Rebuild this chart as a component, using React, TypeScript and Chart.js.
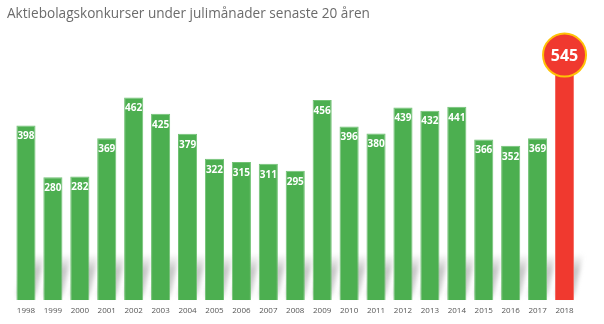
import React, { useEffect, useRef } from "react";
import { Chart, registerables } from "chart.js";

Chart.register(...registerables);

const TITLE = "Aktiebolagskonkurser under julimånader senaste 20 åren";
const YEARS = ["1998","1999","2000","2001","2002","2003","2004","2005","2006","2007","2008","2009","2010","2011","2012","2013","2014","2015","2016","2017","2018"];
const VALUES = [398,280,282,369,462,425,379,322,315,311,295,456,396,380,439,432,441,366,352,369,545];
const GREEN = "#4caf50";
const RED = "#f0392f";
const AMBER = "#ffc107";

const titlePlugin = {
  id: "customTitle",
  afterDraw(chart: any) {
    const ctx = chart.ctx;
    ctx.save();
    ctx.font = '13.6px "Open Sans"';
    ctx.fillStyle = "#6b6b6b";
    ctx.textBaseline = "middle";
    ctx.textAlign = "left";
    ctx.fillText(TITLE, 7, 14);
    ctx.restore();
  },
};

const shadowPlugin = {
  id: "barShadow",
  beforeDatasetsDraw(chart: any) {
    const ctx = chart.ctx;
    const meta = chart.getDatasetMeta(0);
    ctx.save();
    ctx.filter = "blur(2px)";
    meta.data.forEach((bar: any) => {
      const w = bar.width;
      const l = bar.x - w / 2;
      const r = bar.x + w / 2;
      const b = bar.base;
      const topY = b - 46;
      const dx = 9;
      const g = ctx.createLinearGradient(0, topY, 0, b);
      g.addColorStop(0, "rgba(160,160,160,0)");
      g.addColorStop(0.35, "rgba(160,160,160,0.6)");
      g.addColorStop(0.8, "rgba(160,160,160,0.5)");
      g.addColorStop(1, "rgba(160,160,160,0.15)");
      ctx.fillStyle = g;
      ctx.beginPath();
      ctx.moveTo(l, b - 3);
      ctx.lineTo(r, b - 3);
      ctx.lineTo(r + dx, topY);
      ctx.lineTo(l + dx, topY);
      ctx.closePath();
      ctx.fill();
    });
    ctx.restore();
  },
};

const labelPlugin = {
  id: "valueLabels",
  afterDatasetsDraw(chart: any) {
    const ctx = chart.ctx;
    const meta = chart.getDatasetMeta(0);
    const data = chart.data.datasets[0].data;
    ctx.save();
    ctx.textAlign = "center";
    ctx.textBaseline = "middle";
    meta.data.forEach((bar: any, i: number) => {
      if (i === data.length - 1) {
        const cx = bar.x;
        const cy = bar.y - 6;
        ctx.beginPath();
        ctx.arc(cx, cy, 21.5, 0, Math.PI * 2);
        ctx.fillStyle = RED;
        ctx.fill();
        ctx.lineWidth = 2;
        ctx.strokeStyle = AMBER;
        ctx.stroke();
        ctx.fillStyle = "#ffffff";
        ctx.font = 'bold 16px "Open Sans"';
        ctx.fillText(String(data[i]), cx, cy + 1);
      } else {
        ctx.fillStyle = "#ffffff";
        ctx.font = 'bold 10px "Open Sans"';
        ctx.fillText(String(data[i]), bar.x, bar.y + 11);
      }
    });
    ctx.restore();
  },
};

export default function App() {
  const ref = useRef<HTMLCanvasElement>(null);
  useEffect(() => {
    document.body.style.margin = "0";
    const chart = new Chart(ref.current!, {
      type: "bar",
      data: {
        labels: YEARS,
        datasets: [
          {
            data: VALUES,
            backgroundColor: VALUES.map((_, i) => (i === VALUES.length - 1 ? RED : GREEN)),
            borderColor: VALUES.map((_, i) => (i === VALUES.length - 1 ? "#f56a62" : "#72c275")),
            borderWidth: 1,
            categoryPercentage: 1,
            barPercentage: 0.71,
          },
        ],
      },
      options: {
        animation: false,
        responsive: false,
        layout: { padding: { top: 37, left: 12.5, right: 26, bottom: 2.4 } },
        plugins: { legend: { display: false }, tooltip: { enabled: false }, title: { display: false } },
        scales: {
          y: { display: false, min: 0, max: 600 },
          x: {
            grid: { display: false, drawTicks: false },
            border: { display: false },
            ticks: {
              color: "#555555",
              font: { size: 8, family: '"Open Sans"' },
              padding: 6,
              maxRotation: 0,
              autoSkip: false,
            },
          },
        },
      },
      plugins: [titlePlugin, shadowPlugin, labelPlugin],
    });
    return () => chart.destroy();
  }, []);
  return (
    <div style={{ position: "absolute", left: 0, top: 0, width: 604, height: 324, background: "#fff" }}>
      <canvas ref={ref} width={604} height={324} style={{ width: 604, height: 324 }} />
    </div>
  );
}
